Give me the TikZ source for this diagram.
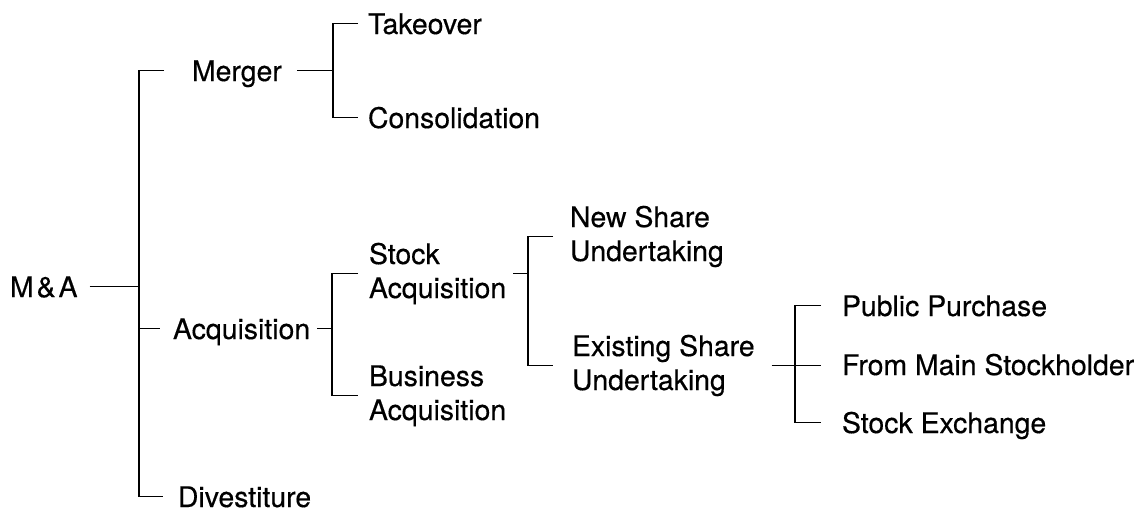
\documentclass[tikz,border=0pt]{standalone}
\usepackage{fontspec}
\setmainfont{TeX Gyre Heros}[FakeBold=0.4]
\begin{document}
\begin{tikzpicture}[x=1pt,y=-1pt,
  every node/.style={inner sep=0pt,outer sep=0pt,font=\fontsize{28.4}{34}\selectfont},
  leaf/.style={anchor=base west,text depth=0pt},
  leaftwo/.style={anchor=base west,align=left},
  conn/.style={line width=1.4pt,black}]
\useasboundingbox[fill=white] (0,0) rectangle (1143,512);
% bracket x positions
\coordinate (B0) at (139,0);
\coordinate (B1) at (333,0);
\coordinate (B2) at (332,0);
\coordinate (B3) at (528,0);
\coordinate (B4) at (795,0);
% nodes (two-line nodes are placed by the baseline of their last line)
\node[leaf] (mna) at (10,297) {M\kern3pt\&\kern3pt A};
\node[leaf] (merger) at (192,81) {Merger};
\node[leaf] (acq) at (173,339) {Acquisition};
\node[leaf] (dive) at (178,507) {Divestiture};
\node[leaf] (take) at (368,34) {Takeover};
\node[leaf] (cons) at (368,128) {Consolidation};
\node[leaftwo] (stock) at (369,298) {Stock\\Acquisition};
\node[leaftwo] (busi) at (369,420) {Business\\Acquisition};
\node[leaftwo] (newsh) at (570,261) {New Share\\Undertaking};
\node[leaftwo] (exist) at (572,390) {Existing Share\\Undertaking};
\node[leaf] (pub) at (842,316) {Public Purchase};
\node[leaf] (main) at (842,375) {From Main Stockholder};
\node[leaf] (sx) at (842,433) {Stock Exchange};
% level 0
\draw[conn] ([xshift=12pt]mna.east) -- (mna.east -| B0);
\draw[conn] ([xshift=-28pt]merger.west) -- (merger.west -| B0) -- (dive.west -| B0) -- ([xshift=-15pt]dive.west);
\draw[conn] (acq.west -| B0) -- ([xshift=-13pt]acq.west);
% merger
\draw[conn] ([xshift=15pt]merger.east) -- (merger.east -| B1);
\draw[conn] ([xshift=-10pt]take.west) -- (take.west -| B1) -- (cons.west -| B1) -- ([xshift=-10pt]cons.west);
% acquisition
\draw[conn] ([xshift=7pt]acq.east) -- (acq.east -| B2);
\draw[conn] ([xshift=-11pt]stock.west) -- (stock.west -| B2) -- (busi.west -| B2) -- ([xshift=-11pt]busi.west);
% stock acquisition
\draw[conn] ([xshift=7pt]stock.east) -- (stock.east -| B3);
\draw[conn] ([xshift=-17pt]newsh.west) -- (newsh.west -| B3) -- (exist.west -| B3) -- ([xshift=-19pt]exist.west);
% existing share
\draw[conn] ([xshift=17pt]exist.east) -- ([xshift=-21pt]main.west |- exist.east);
\draw[conn] ([xshift=-21pt]pub.west) -- (pub.west -| B4) -- (sx.west -| B4) -- ([xshift=-21pt]sx.west);
\end{tikzpicture}
\end{document}
